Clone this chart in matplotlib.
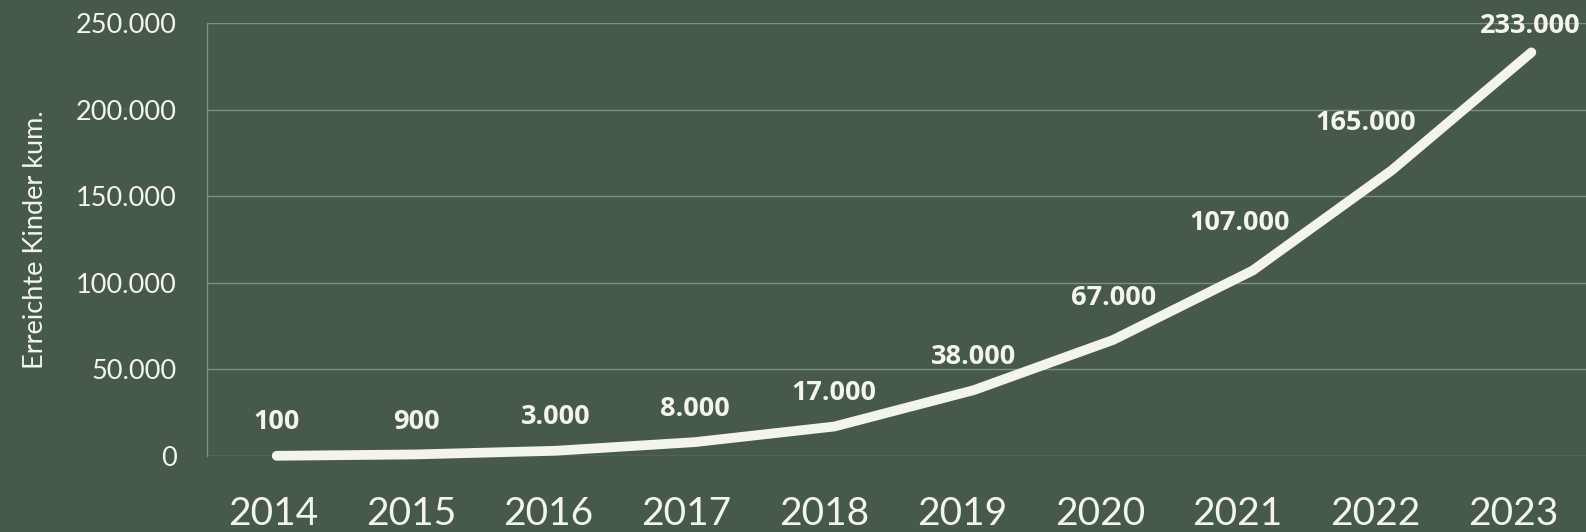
import matplotlib
matplotlib.use("Agg")
import matplotlib.pyplot as plt
from matplotlib.ticker import FuncFormatter

# Daten: erreichte Kinder (kumuliert)
years = ["2014", "2015", "2016", "2017", "2018", "2019", "2020", "2021", "2022", "2023"]
kinder = [100, 900, 3000, 8000, 17000, 38000, 67000, 107000, 165000, 233000]
y_ticks = [0, 50000, 100000, 150000, 200000, 250000]

BG = "#475a4a"
GRID = "#7d8f80"
FG = "#f4f4ee"

# Verschiebung der Beschriftungen (pt), wie im Original von Hand gesetzt
label_dx = [0, 0, 0, 0, 0, 0, 0, -9, -19, -1]
label_dy = [24, 23, 24, 24, 24, 24, 30, 34, 34, 19]


def de_fmt(v, pos=None):
    return f"{int(v):,}".replace(",", ".")


fig = plt.figure(figsize=(15.86, 5.32), dpi=100, facecolor=BG)
# Plotbereich ragt rechts etwas über den Bildrand hinaus (wie im Original)
ax = fig.add_axes([0.1305, 0.1429, 0.879, 0.814], facecolor=BG)

x = list(range(len(years)))
ax.plot(x, kinder, color=FG, linewidth=7, solid_capstyle="round",
        solid_joinstyle="round", zorder=3, clip_on=False)

for xi, v, dx, dy in zip(x, kinder, label_dx, label_dy):
    ax.annotate(de_fmt(v), (xi, v), xytext=(dx, dy), textcoords="offset points",
                ha="center", va="center", fontsize=19.5, fontweight="bold",
                family="Open Sans", color=FG, zorder=4)

ax.set_xlim(-0.5, len(years) - 0.5)
ax.set_ylim(0, 250000)
ax.set_yticks(y_ticks)
ax.yaxis.set_major_formatter(FuncFormatter(de_fmt))
ax.set_xticks(x)
ax.tick_params(axis="x", labelbottom=False, length=0)

ax.grid(axis="y", color=GRID, linewidth=1.0)
ax.set_axisbelow(True)
for s in ["top", "right", "bottom"]:
    ax.spines[s].set_visible(False)
ax.spines["left"].set_color(GRID)
ax.spines["left"].set_linewidth(1.0)

ax.tick_params(axis="y", length=0, colors=FG, labelsize=19.5, pad=22)
for lbl in ax.get_yticklabels():
    lbl.set_family("Lato")

ax.set_ylabel("Erreichte Kinder kum.", fontsize=19.5, color=FG, family="Lato",
              labelpad=20)

# Jahreszahlen stehen im Original etwas enger als die Datenpunkte
ax2 = ax.twiny()
ax2.set_xlim(-0.479, 9.637)
ax2.set_xticks(x)
ax2.set_xticklabels(years)
ax2.xaxis.set_ticks_position("bottom")
ax2.tick_params(axis="x", length=0, colors=FG, labelsize=28, pad=29)
for s in ax2.spines.values():
    s.set_visible(False)
for lbl in ax2.get_xticklabels():
    lbl.set_family("Lato")

fig.savefig("out.png", dpi=100, facecolor=BG)
